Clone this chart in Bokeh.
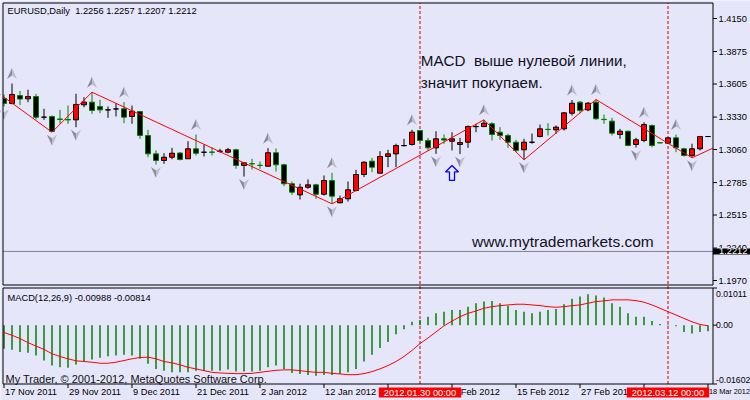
from bokeh.plotting import figure
from bokeh.models import ColumnDataSource, Label, Range1d
from bokeh.core.properties import value
from bokeh.embed import file_html
from bokeh.resources import INLINE

# ---------------- data (EURUSD daily) ----------------
OPEN = [1.3484, 1.3443, 1.3509, 1.3482, 1.3501, 1.3329, 1.3335, 1.3314, 1.3310, 1.3307,
        1.3432, 1.3454, 1.3418, 1.3389, 1.3397, 1.3399, 1.3335, 1.3376, 1.3177, 1.3024,
        1.2969, 1.2996, 1.3031, 1.2983, 1.3066, 1.3037, 1.3039, 1.3045, 1.3038, 1.3058,
        1.2927, 1.2942, 1.2929, 1.2921, 1.3033, 1.2933, 1.2775, 1.2683, 1.2746, 1.2766,
        1.2688, 1.2802, 1.2617, 1.2650, 1.2719, 1.2852, 1.2963, 1.2863, 1.3002, 1.3024,
        1.3092, 1.3102, 1.3218, 1.3135, 1.3074, 1.3149, 1.3129, 1.3102, 1.3121, 1.3250,
        1.3251, 1.3274, 1.3204, 1.3177, 1.3121, 1.3058, 1.3120, 1.3168, 1.3228, 1.3224,
        1.3232, 1.3362, 1.3454, 1.3390, 1.3454, 1.3311, 1.3296, 1.3185, 1.3212, 1.3102,
        1.3135, 1.3260, 1.3117, 1.3113, 1.3157, 1.3066, 1.3010, 1.3066, 1.3168]
HIGH = [1.3518, 1.3609, 1.3547, 1.3557, 1.3524, 1.3399, 1.3343, 1.3390, 1.3426, 1.3524,
        1.3495, 1.3537, 1.3474, 1.3418, 1.3445, 1.3454, 1.3426, 1.3380, 1.3224, 1.3052,
        1.3029, 1.3074, 1.3038, 1.3129, 1.3185, 1.3102, 1.3079, 1.3066, 1.3074, 1.3066,
        1.2954, 1.2983, 1.2960, 1.3071, 1.3069, 1.2941, 1.2794, 1.2775, 1.2811, 1.2775,
        1.2844, 1.2866, 1.2677, 1.2794, 1.2891, 1.2963, 1.2991, 1.3046, 1.3058, 1.3108,
        1.3149, 1.3224, 1.3220, 1.3157, 1.3212, 1.3185, 1.3204, 1.3157, 1.3260, 1.3274,
        1.3307, 1.3287, 1.3246, 1.3191, 1.3141, 1.3149, 1.3193, 1.3268, 1.3279, 1.3260,
        1.3370, 1.3472, 1.3464, 1.3455, 1.3476, 1.3351, 1.3324, 1.3232, 1.3218, 1.3157,
        1.3287, 1.3268, 1.3121, 1.3164, 1.3185, 1.3074, 1.3108, 1.3168, 1.3172]
LOW = [1.3418, 1.3435, 1.3430, 1.3454, 1.3310, 1.3307, 1.3204, 1.3274, 1.3274, 1.3246,
       1.3412, 1.3357, 1.3362, 1.3324, 1.3335, 1.3279, 1.3274, 1.3149, 1.2996, 1.2935,
       1.2941, 1.2979, 1.2969, 1.2981, 1.3010, 1.3002, 1.3010, 1.3033, 1.3029, 1.2900,
       1.2835, 1.2894, 1.2900, 1.2920, 1.2877, 1.2755, 1.2683, 1.2644, 1.2733, 1.2650,
       1.2677, 1.2608, 1.2612, 1.2627, 1.2713, 1.2830, 1.2871, 1.2862, 1.2913, 1.2913,
       1.3085, 1.3093, 1.3127, 1.3052, 1.3024, 1.3108, 1.3052, 1.3022, 1.3074, 1.3204,
       1.3246, 1.3135, 1.3141, 1.3074, 1.3038, 1.2974, 1.3108, 1.3162, 1.3177, 1.3191,
       1.3218, 1.3343, 1.3362, 1.3379, 1.3307, 1.3274, 1.3177, 1.3149, 1.3089, 1.3077,
       1.3121, 1.3079, 1.3110, 1.3106, 1.3038, 1.3002, 1.2991, 1.3052, 1.3165]
CLOSE = [1.3443, 1.3518, 1.3480, 1.3501, 1.3329, 1.3329, 1.3210, 1.3310, 1.3306, 1.3435,
         1.3454, 1.3385, 1.3390, 1.3390, 1.3398, 1.3329, 1.3379, 1.3177, 1.3024, 1.2969,
         1.2996, 1.3029, 1.2977, 1.3066, 1.3029, 1.3038, 1.3037, 1.3046, 1.3058, 1.2927,
         1.2949, 1.2940, 1.2927, 1.3033, 1.2933, 1.2775, 1.2705, 1.2746, 1.2766, 1.2688,
         1.2802, 1.2672, 1.2650, 1.2725, 1.2852, 1.2954, 1.2913, 1.3002, 1.3024, 1.3093,
         1.3093, 1.3204, 1.3135, 1.3074, 1.3149, 1.3139, 1.3149, 1.3118, 1.3251, 1.3251,
         1.3279, 1.3185, 1.3177, 1.3121, 1.3052, 1.3121, 1.3121, 1.3232, 1.3226, 1.3246,
         1.3365, 1.3445, 1.3385, 1.3445, 1.3316, 1.3309, 1.3196, 1.3212, 1.3093, 1.3141,
         1.3268, 1.3093, 1.3115, 1.3157, 1.3074, 1.3010, 1.3066, 1.3168, 1.3168]

MACD_MAIN = [-0.00641, -0.00668, -0.00734, -0.00751, -0.00825, -0.00963, -0.01100, -0.01147, -0.01163, -0.01073,
             -0.00990, -0.00935, -0.00888, -0.00844, -0.00825, -0.00806, -0.00825, -0.00916, -0.01053, -0.01191,
             -0.01238, -0.01284, -0.01284, -0.01284, -0.01238, -0.01238, -0.01238, -0.01238, -0.01210, -0.01265,
             -0.01265, -0.01265, -0.01238, -0.01147, -0.01100, -0.01191, -0.01301, -0.01328, -0.01356, -0.01375,
             -0.01356, -0.01356, -0.01328, -0.01284, -0.01191, -0.00990, -0.00806, -0.00624, -0.00459, -0.00248,
             -0.00110, 0.00091, 0.00138, 0.00228, 0.00322, 0.00366, 0.00413, 0.00413, 0.00503, 0.00597,
             0.00641, 0.00660, 0.00597, 0.00531, 0.00413, 0.00366, 0.00322, 0.00366, 0.00413, 0.00440,
             0.00569, 0.00715, 0.00778, 0.00844, 0.00806, 0.00751, 0.00597, 0.00503, 0.00322, 0.00228,
             0.00228, 0.00110, 0.00028, 0.00015, -0.00030, -0.00184, -0.00228, -0.00184, -0.00165]
MACD_SIGNAL = [-0.00201, -0.00275, -0.00366, -0.00476, -0.00569, -0.00660, -0.00778, -0.00853, -0.00916, -0.00971,
               -0.00990, -0.01009, -0.01037, -0.01037, -0.01009, -0.00963, -0.00916, -0.00880, -0.00872, -0.00916,
               -0.00990, -0.01026, -0.01081, -0.01147, -0.01191, -0.01238, -0.01284, -0.01301, -0.01312, -0.01320,
               -0.01320, -0.01312, -0.01284, -0.01257, -0.01229, -0.01218, -0.01218, -0.01238, -0.01265, -0.01284,
               -0.01284, -0.01312, -0.01328, -0.01348, -0.01348, -0.01320, -0.01265, -0.01191, -0.01100, -0.00990,
               -0.00853, -0.00688, -0.00503, -0.00349, -0.00184, -0.00019, 0.00110, 0.00228, 0.00322, 0.00385,
               0.00459, 0.00503, 0.00531, 0.00550, 0.00569, 0.00569, 0.00550, 0.00531, 0.00503, 0.00487,
               0.00503, 0.00531, 0.00550, 0.00597, 0.00641, 0.00660, 0.00688, 0.00688, 0.00688, 0.00668,
               0.00624, 0.00550, 0.00459, 0.00366, 0.00275, 0.00184, 0.00091, 0.00019, -0.00019]

ZIGZAG_IDX = [-1, 6, 11, 41, 60, 65, 74, 86, 89]
ZIGZAG_PRICE = [1.3544, 1.3204, 1.3537, 1.2608, 1.3307, 1.2974, 1.3476, 1.2991, 1.3083]
FRACTAL_UP = [1, 11, 15, 24, 33, 41, 51, 60, 71, 74, 80, 84]
FRACTAL_DN = [0, 6, 9, 19, 30, 41, 54, 57, 65, 79, 86]

PRICE_TICKS = [1.4150, 1.3875, 1.3605, 1.3330, 1.3060, 1.2785, 1.2515, 1.2240, 1.1970]
BID_PRICE = 1.2212
MACD_MAX, MACD_MIN = 0.01011, -0.01602
MACD_TICKS = [MACD_MAX, 0.0, MACD_MIN]
MACD_LABELS = ["0.01011", "0.00", "-0.01602"]

DATE_TICK_IDX = [0, 8, 16, 24, 32, 40, 48, 56, 64, 72, 80, 88]
DATE_TICK_LABELS = ["17 Nov 2011", "29 Nov 2011", "9 Dec 2011", "21 Dec 2011", "2 Jan 2012",
                    "12 Jan 2012", "24 Jan 2012", "3 Feb 2012", "15 Feb 2012", "27 Feb 2012",
                    "7 Mar 2012", "18 Mar 2012"]
VLINE_IDX = [52, 83]
VLINE_LABELS = ["2012.01.30 00:00", "2012.03.12 00:00"]

HEADER = "EURUSD,Daily\u00a0 1.2256 1.2257 1.2207 1.2212"
MACD_HEADER = "MACD(12,26,9) -0.00988 -0.00814"
COPYRIGHT = "My Trader, \u00a9 2001-2012, MetaQuotes Software Corp."
NOTE_LINES = ["MACD\u00a0 выше нулевой линии,", "значит покупаем."]
NOTE_IDX = 52.1
NOTE_PRICE = [1.3801, 1.3620]
SITE_TEXT = "www.mytrademarkets.com"
SITE_IDX, SITE_PRICE = 58.5, 1.2297
BUY_ARROW_IDX, BUY_ARROW_PRICE = 56, 1.2865

# ---------------- geometry (canvas pixels) ----------------
W, H = 750, 400
BAR0, BAR_STEP = 3.5, 8.0    # pixel centre of bar 0 and bar spacing
LB, RB = 2.5, 712.5          # panel left / right border
MT, MB = 2.5, 284.5          # price panel top / bottom
DT, DB = 287.5, 383.5        # MACD panel top / bottom
X0, X1 = (LB - BAR0) / BAR_STEP, (RB - BAR0) / BAR_STEP
Y0, Y1 = 1.19328, 1.42790
PX_X = BAR_STEP
PX_Y = (MB - MT) / (Y1 - Y0)
PX_M = (DB - DT) / (MACD_MAX - MACD_MIN)
XS, XE = X0 - LB / PX_X, X1 + (W - RB) / PX_X
YS, YE = Y1 - (H - MT) / PX_Y, Y1 + MT / PX_Y
MS, ME = MACD_MAX - (H - DT) / PX_M, MACD_MAX + DT / PX_M

FONT = "Liberation Sans"
BG = "#E6E6FA"
SMALL = "9.3px"
AXIS_SMALL = "8.7px"
DATE_FONT_SIZES = ["9.3px"] * 11 + ["7.3px"]

N = len(OPEN)
IDX = list(range(N))

p = figure(width=W, height=H, x_range=Range1d(XS, XE), y_range=Range1d(YS, YE),
           output_backend="svg", toolbar_location=None, x_axis_location=None,
           y_axis_location=None, min_border=0, background_fill_color=BG,
           border_fill_color=BG, outline_line_color=None)
p.extra_y_ranges = {"macd": Range1d(MS, ME)}
p.grid.visible = False

# bid line
p.segment(x0=X0, y0=BID_PRICE, x1=X1, y1=BID_PRICE, line_color="#80808f", line_width=1)

# vertical event lines across both panels
y_low = Y1 - (DB - MT) / PX_Y
p.segment(x0=VLINE_IDX, y0=y_low, x1=VLINE_IDX, y1=Y1, line_color="#CC0000",
          line_dash="3 2", line_width=1)

# candles
bull = [c >= o for o, c in zip(OPEN, CLOSE)]
src = ColumnDataSource(dict(
    x=IDX, high=HIGH, low=LOW,
    top=[max(o, c) for o, c in zip(OPEN, CLOSE)],
    bottom=[min(o, c) for o, c in zip(OPEN, CLOSE)],
    fill=["#FF0000" if b else "#000000" for b in bull],
    line=["#000000" if b else "#008000" for b in bull],
))
p.segment(x0="x", y0="high", x1="x", y1="low", line_color="line", line_width=1, source=src)
p.vbar(x="x", width=0.625, top="top", bottom="bottom", fill_color="fill",
       line_color="line", line_width=1, source=src)

# zigzag
p.line(ZIGZAG_IDX, ZIGZAG_PRICE, line_color="#FF0000", line_width=1)

# fractal arrows (two-tone arrowheads)
hw, hh, notch = 5.0 / PX_X, 5.5 / PX_Y, 2.0 / PX_Y
xs, ys, cols = [], [], []
for i in FRACTAL_UP:
    cy = HIGH[i] + 10.0 / PX_Y
    tip, base, nt = cy + hh, cy - hh, cy - notch
    xs += [[i, i - hw, i], [i, i, i + hw]]
    ys += [[tip, base, nt], [tip, nt, base]]
    cols += ["#8C8C9E", "#BDBDCB"]
for i in FRACTAL_DN:
    cy = LOW[i] - 8.0 / PX_Y
    tip, base, nt = cy - hh, cy + hh, cy + notch
    xs += [[i, i - hw, i], [i, i, i + hw]]
    ys += [[tip, base, nt], [tip, nt, base]]
    cols += ["#8C8C9E", "#BDBDCB"]
p.patches(xs, ys, fill_color=cols, line_color=None)

# blue buy arrow
bx, by = BUY_ARROW_IDX, BUY_ARROW_PRICE
ax_px = [0, 6.5, 2.5, 2.5, -2.5, -2.5, -6.5]
ay_px = [7.5, 1, 1, -7.5, -7.5, 1, 1]
p.patch([bx + v / PX_X for v in ax_px], [by + v / PX_Y for v in ay_px],
        fill_color=BG, line_color="#0000FF", line_width=1.3)

# MACD histogram and signal
p.segment(x0=IDX, y0=0, x1=IDX, y1=MACD_MAIN, line_color="#008000", line_width=1.5,
          y_range_name="macd")
p.line(IDX, MACD_SIGNAL, line_color="#FF0000", line_width=1, y_range_name="macd")

# clip masks beside the price panel, then panel borders
p.quad(left=[XS, X1], right=[X0, XE], bottom=Y0, top=Y1, fill_color=BG, line_color=None)
p.quad(left=X0, right=X1, bottom=Y0, top=Y1, fill_color=None, line_color="black", line_width=1)
p.quad(left=X0, right=X1, bottom=MACD_MIN, top=MACD_MAX, fill_color=None, line_color="black",
       line_width=1, y_range_name="macd")

# price axis (right)
tick_px = 4.0 / PX_X
p.segment(x0=X1, y0=PRICE_TICKS, x1=X1 + tick_px, y1=PRICE_TICKS, line_color="black", line_width=1)
p.text(x=X1 + 5.5 / PX_X, y=PRICE_TICKS, text=["%.4f" % v for v in PRICE_TICKS],
       text_font=value(FONT), text_font_size=value(SMALL), text_color="black",
       text_align="left", text_baseline="middle")

# MACD axis (right)
p.segment(x0=X1, y0=MACD_TICKS, x1=X1 + tick_px, y1=MACD_TICKS, line_color="black",
          line_width=1, y_range_name="macd")
for lab, yv, base, off in zip(MACD_LABELS, MACD_TICKS, ["top", "middle", "bottom"], [-2.5, 0, 1.5]):
    p.text(x=[X1 + 3.0 / PX_X], y=[yv + off / PX_M], text=[lab], text_font=value(FONT),
           text_font_size=value(AXIS_SMALL), text_color="black", text_align="left",
           text_baseline=base, y_range_name="macd")

# time axis (below)
p.segment(x0=DATE_TICK_IDX, y0=MACD_MIN, x1=DATE_TICK_IDX, y1=MACD_MIN - 4.0 / PX_M,
          line_color="black", line_width=1, y_range_name="macd")
date_src = ColumnDataSource(dict(x=[v + 1.0 / PX_X for v in DATE_TICK_IDX],
                                 text=DATE_TICK_LABELS, size=DATE_FONT_SIZES))
p.text(x="x", y=MACD_MIN - 3.0 / PX_M, text="text", source=date_src,
       text_font=value(FONT), text_font_size="size", text_color="black",
       text_align="left", text_baseline="top", y_range_name="macd")

# texts
p.add_layout(Label(x=LB + 4.5, y=H - MT - 3, x_units="screen", y_units="screen", text=HEADER,
                   text_font=FONT, text_font_size=SMALL, text_color="black", text_baseline="top"))
for t, yv in zip(NOTE_LINES, NOTE_PRICE):
    p.add_layout(Label(x=NOTE_IDX, y=yv, text=t, text_font=FONT, text_font_size="15.2px",
                       text_color="#111122", text_baseline="alphabetic"))
p.add_layout(Label(x=SITE_IDX, y=SITE_PRICE, text=SITE_TEXT, text_font=FONT,
                   text_font_size="15.5px", text_color="#111122", text_baseline="alphabetic"))
p.add_layout(Label(x=LB + 4.5, y=H - DT - 5, x_units="screen", y_units="screen",
                   text=MACD_HEADER, text_font=FONT, text_font_size=SMALL, text_color="black",
                   text_baseline="top"))
p.add_layout(Label(x=LB + 2.5, y=H - DB + 5, x_units="screen", y_units="screen",
                   text=COPYRIGHT, text_font=FONT, text_font_size="11px", text_color="#111111",
                   text_baseline="alphabetic"))

# current bid price box on the price axis
p.add_layout(Label(x=X1, y=BID_PRICE, text="%.4f" % BID_PRICE, text_font=FONT,
                   text_font_size=SMALL, text_color="white", text_baseline="middle",
                   background_fill_color="black",
                   padding=dict(left=6, right=3, top=0, bottom=0)))
# event time boxes on the time axis
for loc, lab in zip(VLINE_IDX, VLINE_LABELS):
    p.add_layout(Label(x=loc, y=MACD_MIN - 3.5 / PX_M, y_range_name="macd", text=lab,
                       text_font=FONT, text_font_size=SMALL, text_color="white",
                       text_align="center", text_baseline="top",
                       background_fill_color="#FF0000",
                       padding=dict(left=5, right=5, top=0, bottom=0)))

open("out.html", "w").write(file_html(p, INLINE))
